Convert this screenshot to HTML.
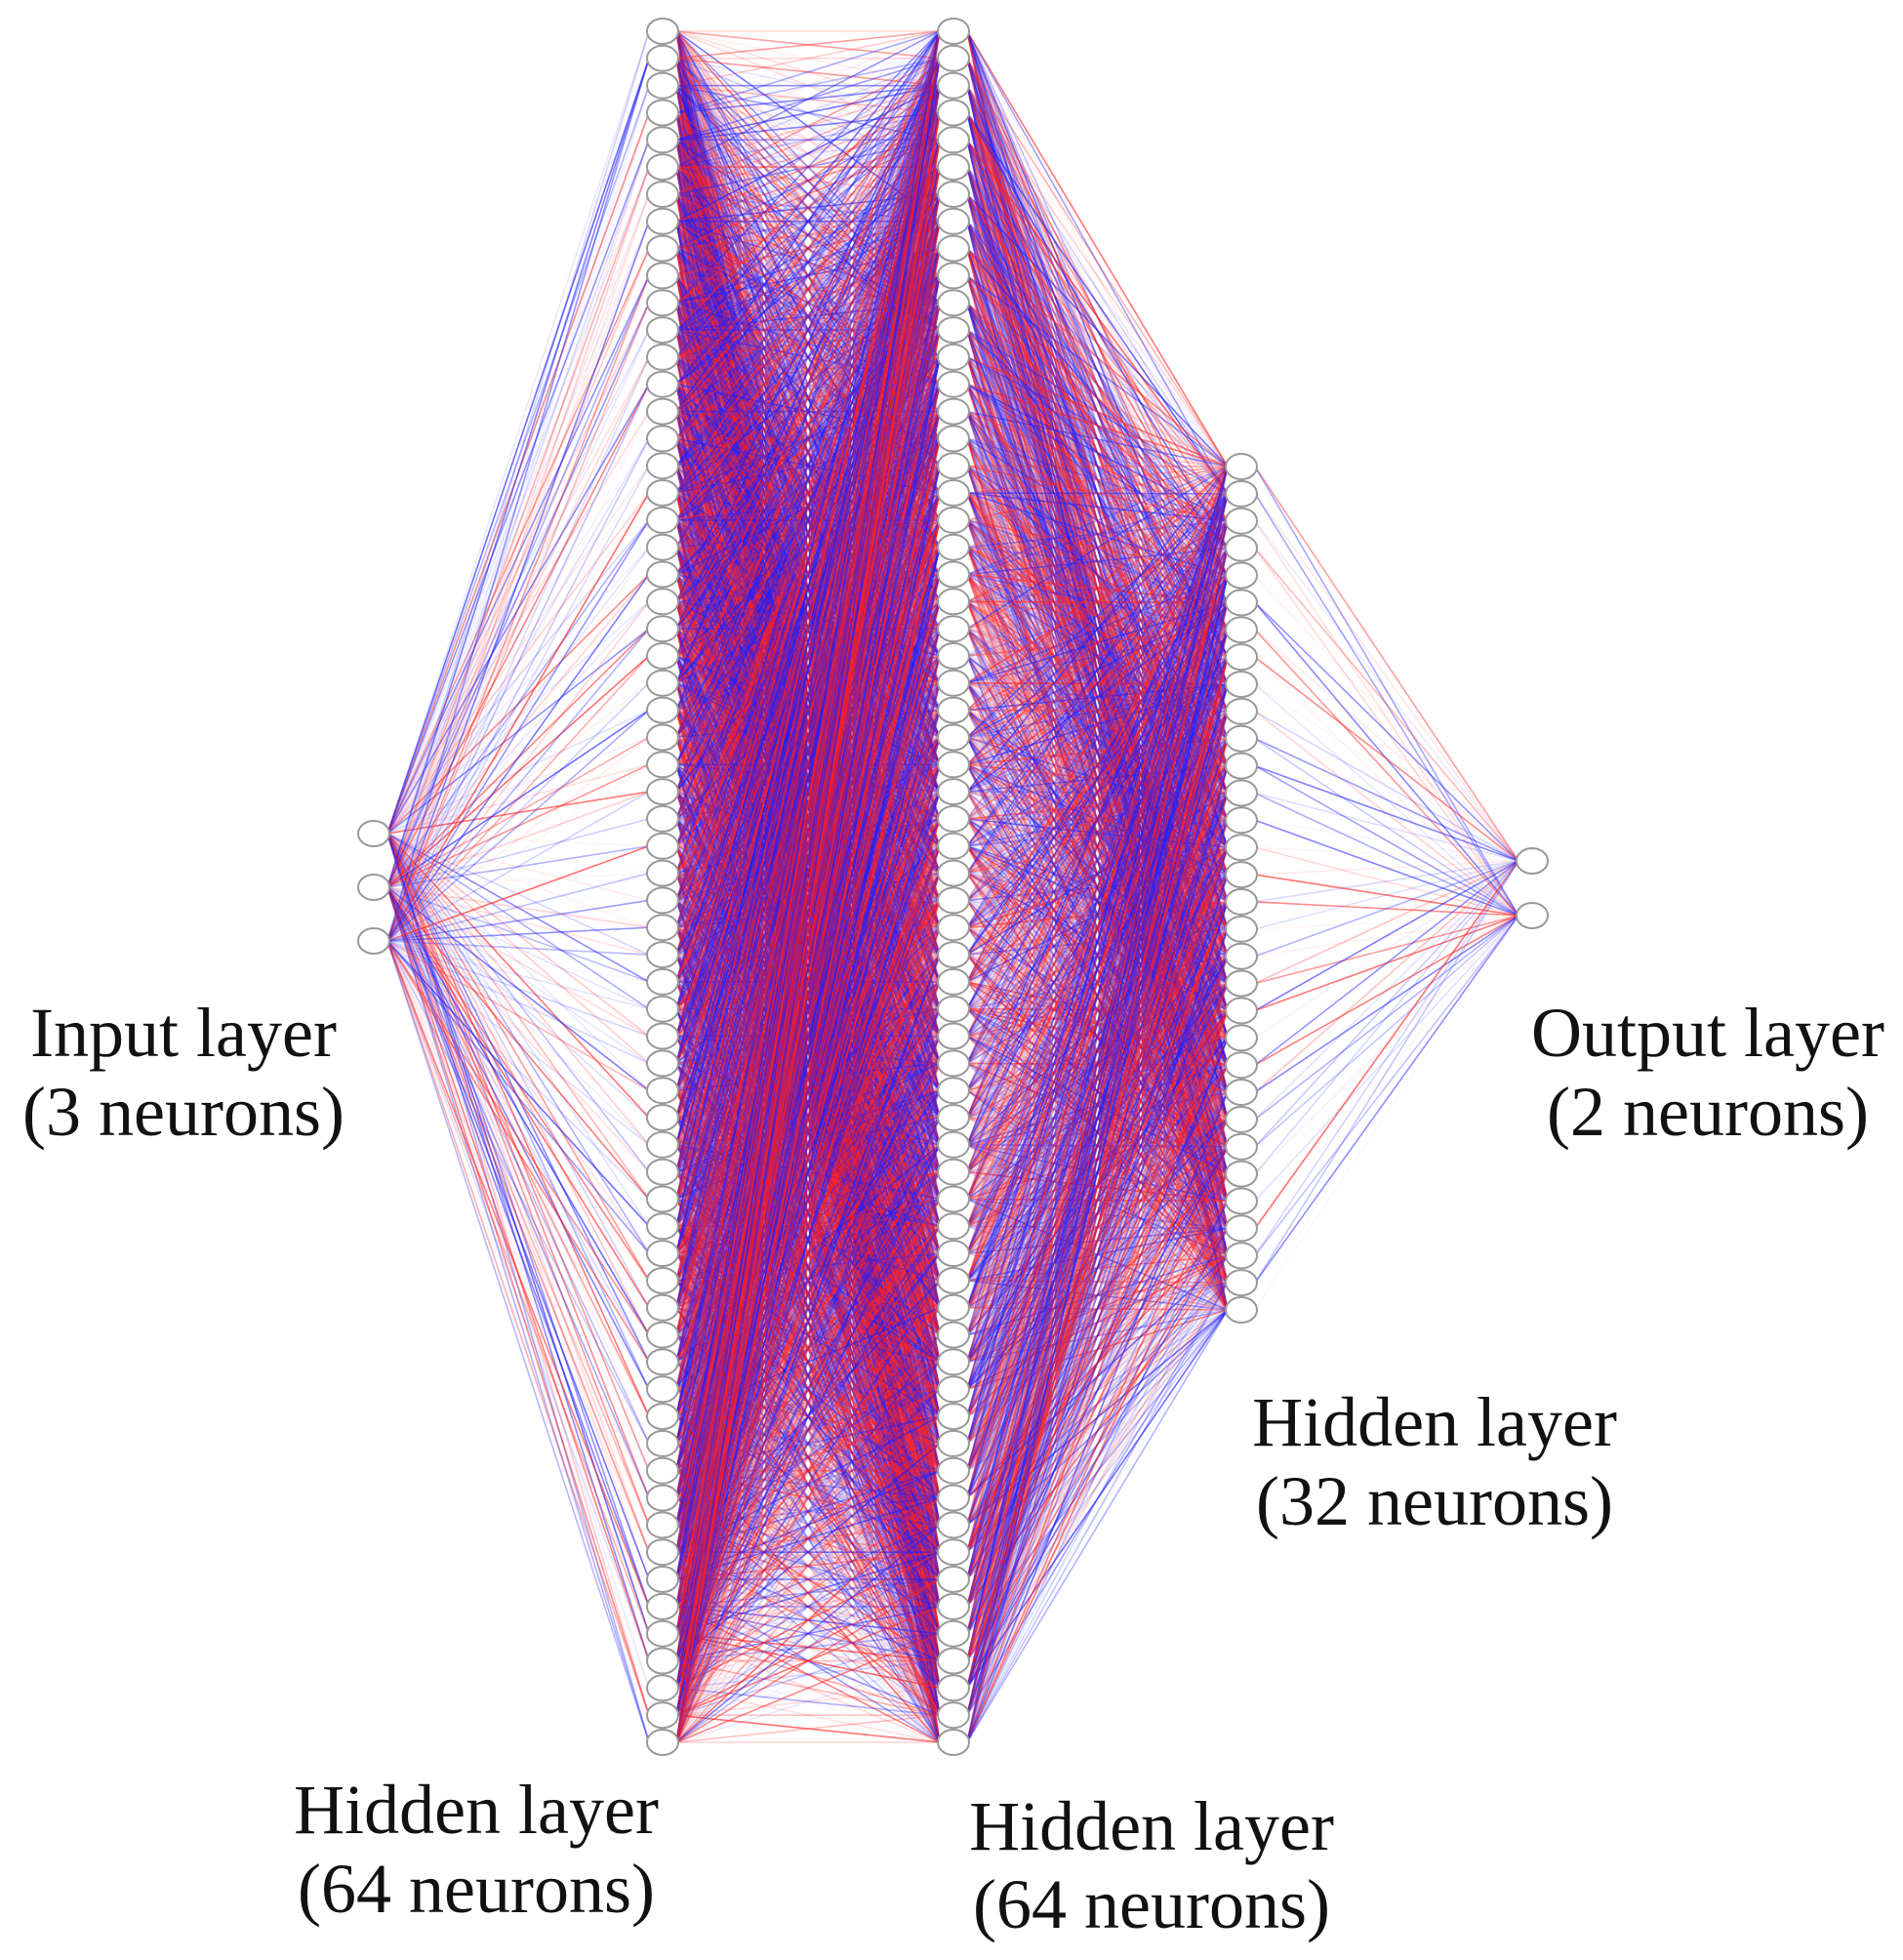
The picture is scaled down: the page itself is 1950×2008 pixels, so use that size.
<!DOCTYPE html>
<html><head><meta charset="utf-8"><style>
html,body{margin:0;padding:0;background:#fff;}
svg{display:block}
text{font-family:"Liberation Serif",serif;font-size:72px;fill:#111;text-anchor:middle}
</style></head><body>
<svg id="s" width="1950" height="2008" viewBox="0 0 1950 2008" xmlns="http://www.w3.org/2000/svg">
<g id="lines"></g>
<g id="nodes"></g>
<text x="188" y="1082">Input layer</text>
<text x="188" y="1163">(3 neurons)</text>
<text x="1750" y="1082">Output layer</text>
<text x="1750" y="1163">(2 neurons)</text>
<text x="1470" y="1481">Hidden layer</text>
<text x="1470" y="1562">(32 neurons)</text>
<text x="488" y="1878">Hidden layer</text>
<text x="488" y="1959">(64 neurons)</text>
<text x="1180" y="1895">Hidden layer</text>
<text x="1180" y="1975">(64 neurons)</text>
</svg>
<script>
(function(){
var L0=function(x,y0,y1,n){var a=[];for(var i=0;i<n;i++)a.push([x,n==1?y0:y0+(y1-y0)*i/(n-1)]);return a;};
var L=[L0(383,854,964,3),L0(679,32,1785,64),L0(977,32,1785,64),L0(1272,478,1342,32),L0(1570,882,938,2)];
var seed=12345;function r(){seed=(seed*1103515245+12345)&0x7fffffff;return seed/0x7fffffff;}
var lg=document.getElementById("lines"),ng=document.getElementById("nodes");
var parts=[];
for(var k=0;k<L.length-1;k++){var A=L[k],B=L[k+1];
 for(var i=0;i<A.length;i++)for(var j=0;j<B.length;j++){
  var red=r()<0.5;var o=(Math.pow(r(),1.8)*0.85+0.03)*0.75;
  parts.push('<line x1="'+(A[i][0]+14)+'" y1="'+A[i][1].toFixed(1)+'" x2="'+(B[j][0]-14)+'" y2="'+B[j][1].toFixed(1)+'" stroke="'+(red?'#ff2020':'#2020ff')+'" stroke-opacity="'+o.toFixed(2)+'" stroke-width="1.6"/>');
 }}
lg.innerHTML=parts.join("");
var np=[];
L.forEach(function(A){A.forEach(function(p){np.push('<ellipse cx="'+p[0]+'" cy="'+p[1].toFixed(1)+'" rx="16" ry="13" fill="#fff" stroke="#999" stroke-width="2"/>');});});
ng.innerHTML=np.join("");
})();
</script>
</body></html>
